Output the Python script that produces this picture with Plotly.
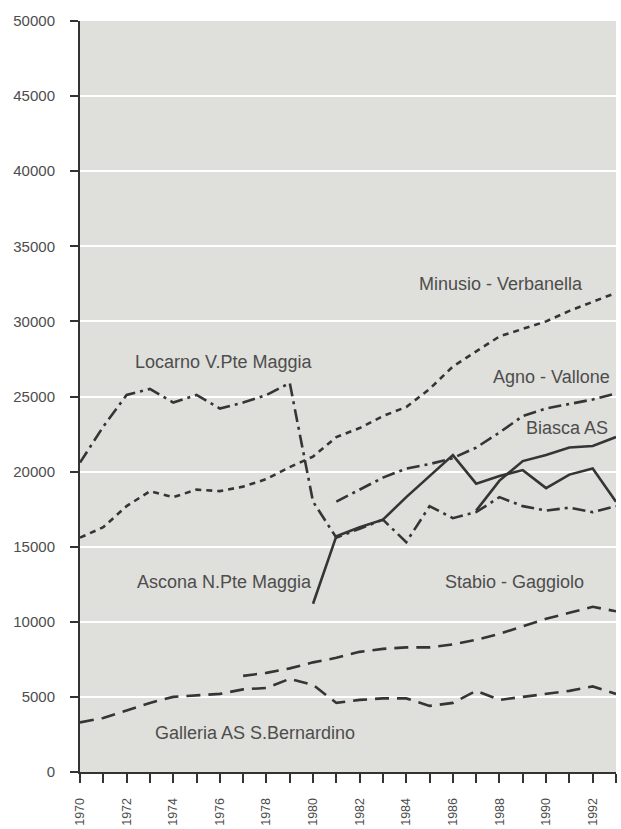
import plotly.graph_objects as go

years = list(range(1970, 1994))

locarno_years = list(range(1970, 1994))
locarno = [20600, 23000, 25100, 25500, 24600, 25100, 24200, 24600, 25100, 25900,
           18000, 15600, 16200, 16800, 15300, 17700, 16900, 17300, 18300, 17700,
           17400, 17600, 17300, 17700]

minusio_years = list(range(1970, 1994))
minusio = [15600, 16300, 17700, 18700, 18300, 18800, 18700, 19000, 19500, 20300,
           21000, 22300, 22900, 23700, 24300, 25500, 27000, 28000, 29000, 29500,
           30000, 30700, 31300, 31900]

agno_years = list(range(1981, 1994))
agno = [18000, 18800, 19600, 20200, 20500, 20900, 21600, 22600, 23700, 24200,
        24500, 24800, 25200]

ascona_years = list(range(1980, 1994))
ascona = [11200, 15700, 16300, 16800, 18300, 19700, 21100, 19200, 19700, 20100,
          18900, 19800, 20200, 18000]

biasca_years = list(range(1987, 1994))
biasca = [17400, 19400, 20700, 21100, 21600, 21700, 22300]

stabio_years = list(range(1977, 1994))
stabio = [6400, 6600, 6900, 7300, 7600, 8000, 8200, 8300, 8300, 8500, 8800, 9200,
          9700, 10200, 10600, 11000, 10700]

galleria_years = list(range(1970, 1994))
galleria = [3300, 3600, 4100, 4600, 5000, 5100, 5200, 5500, 5600, 6200, 5800, 4600,
            4800, 4900, 4900, 4400, 4600, 5400, 4800, 5000, 5200, 5400, 5700, 5200]

y_ticks = list(range(0, 50001, 5000))
x_tick_labels = [str(y) if y % 2 == 0 else "" for y in years]

# (text, x, y, anchor)
labels = [
    ("Minusio - Verbanella", 1988.05, 32500, "center"),
    ("Agno - Vallone", 1992.83, 26300, "right"),
    ("Biasca AS", 1992.75, 22900, "right"),
    ("Locarno V.Pte Maggia", 1972.27, 27300, "left"),
    ("Ascona N.Pte Maggia", 1972.36, 12670, "left"),
    ("Stabio - Gaggiolo", 1985.58, 12670, "left"),
    ("Galleria AS S.Bernardino", 1973.13, 2600, "left"),
]

LC = "#353535"
TXT = "#4d4d4d"
FONT = "Liberation Sans, Arial, sans-serif"

fig = go.Figure()

def add(xs, ys, name, dash, width=2.6):
    fig.add_trace(go.Scatter(x=xs, y=ys, mode="lines", name=name,
                             line=dict(color=LC, width=width, dash=dash),
                             showlegend=False, hoverinfo="skip"))

add(minusio_years, minusio, "Minusio - Verbanella", "6px,5px")
add(locarno_years, locarno, "Locarno V.Pte Maggia", "13px,5px,3px,5px")
add(agno_years, agno, "Agno - Vallone", "13px,5px,3px,5px")
add(stabio_years, stabio, "Stabio - Gaggiolo", "14px,8px")
add(galleria_years, galleria, "Galleria AS S.Bernardino", "14px,8px")
add(ascona_years, ascona, "Ascona N.Pte Maggia", "solid")
add(biasca_years, biasca, "Biasca AS", "solid")

for text, x, y, anc in labels:
    fig.add_annotation(x=x, y=y, xref="x", yref="y", text=text, showarrow=False,
                       font=dict(family=FONT, size=18, color=TXT),
                       xanchor=anc, yanchor="middle")

fig.update_layout(
    width=621, height=829, autosize=False,
    margin=dict(l=80, r=5, t=21, b=57, autoexpand=False),
    paper_bgcolor="white",
    plot_bgcolor="#dfdfdb",
    xaxis=dict(range=[1970, 1993], tickmode="array", tickvals=years,
               ticktext=x_tick_labels, tickangle=-90, ticks="outside",
               ticklen=9, tickwidth=2, tickcolor="#333",
               showline=True, linecolor="#333", linewidth=2,
               showgrid=False, zeroline=False, automargin=False,
               tickfont=dict(family=FONT, size=12.5, color=TXT),
               ticklabelstandoff=10),
    yaxis=dict(range=[0, 50000], tickmode="array", tickvals=y_ticks,
               ticktext=[str(v) for v in y_ticks], ticks="outside",
               ticklen=8, tickwidth=2, tickcolor="#333",
               showline=True, linecolor="#333", linewidth=2,
               showgrid=True, gridcolor="white", gridwidth=2,
               zeroline=False, automargin=False,
               tickfont=dict(family=FONT, size=15, color=TXT),
               ticklabelstandoff=12),
)

# remove the page's default 8px body margin so the figure fills the window exactly
fig.write_html("out.html",
               config={"displayModeBar": False, "staticPlot": True},
               post_script="document.body.style.margin='0';document.body.style.overflow='hidden';")
